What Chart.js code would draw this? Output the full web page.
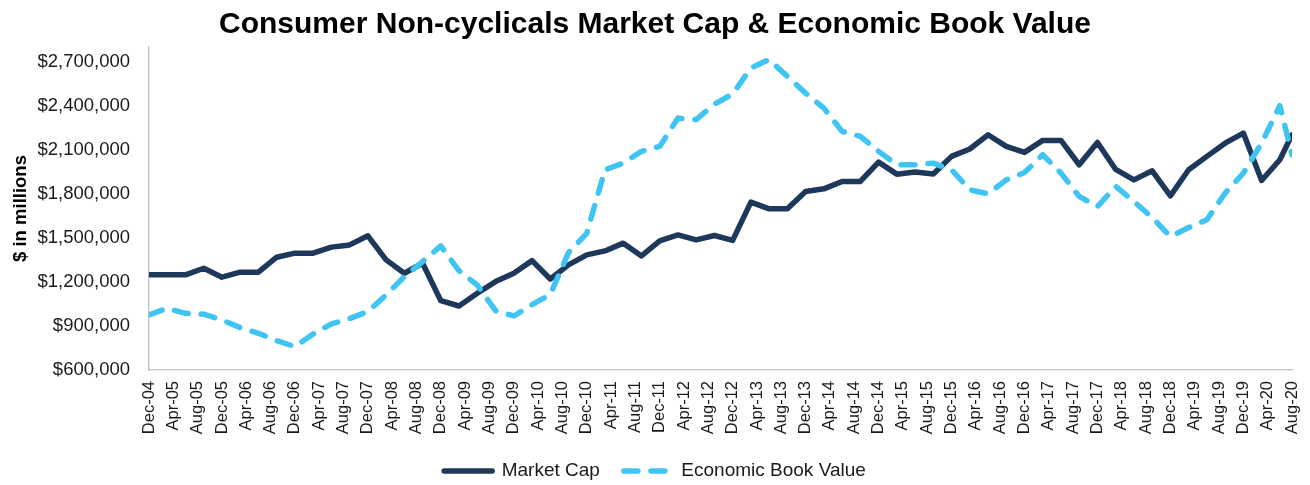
<!DOCTYPE html>
<html>
<head>
<meta charset="utf-8">
<script src="https://cdn.jsdelivr.net/npm/chart.js@4.4.1/dist/chart.umd.min.js"></script>
<style>
  html, body { margin: 0; padding: 0; background: #ffffff; }
  #wrap { width: 1310px; height: 485px; }
</style>
</head>
<body>
<div id="wrap"><canvas id="c" width="1310" height="485"></canvas></div>
<script>
// ---------- DATA ($ in millions) ----------
const periods = ['Dec-04','Mar-05','Jun-05','Sep-05','Dec-05','Mar-06','Jun-06','Sep-06','Dec-06','Mar-07','Jun-07','Sep-07','Dec-07','Mar-08','Jun-08','Sep-08','Dec-08','Mar-09','Jun-09','Sep-09','Dec-09','Mar-10','Jun-10','Sep-10','Dec-10','Mar-11','Jun-11','Sep-11','Dec-11','Mar-12','Jun-12','Sep-12','Dec-12','Mar-13','Jun-13','Sep-13','Dec-13','Mar-14','Jun-14','Sep-14','Dec-14','Mar-15','Jun-15','Sep-15','Dec-15','Mar-16','Jun-16','Sep-16','Dec-16','Mar-17','Jun-17','Sep-17','Dec-17','Mar-18','Jun-18','Sep-18','Dec-18','Mar-19','Jun-19','Sep-19','Dec-19','Mar-20','Jun-20','Aug-20'];

const marketCap = [1248000,1248000,1248000,1293000,1232000,1266000,1266000,1368000,1396000,1396000,1437000,1452000,1514000,1350000,1259000,1327000,1072000,1036000,1123000,1202000,1259000,1345000,1220000,1316000,1384000,1411000,1464000,1377000,1480000,1520000,1486000,1516000,1483000,1743000,1698000,1698000,1816000,1834000,1884000,1884000,2016000,1934000,1948000,1935000,2055000,2105000,2202000,2123000,2082000,2164000,2164000,1998000,2150000,1966000,1895000,1957000,1786000,1964000,2055000,2145000,2214000,1891000,2032000,2202000];

const economicBookValue = [975000,1020000,986000,980000,941000,889000,850000,800000,759000,845000,914000,950000,998000,1111000,1236000,1338000,1445000,1275000,1178000,1005000,968000,1045000,1115000,1400000,1530000,1964000,2009000,2089000,2123000,2316000,2305000,2411000,2480000,2657000,2714000,2600000,2486000,2384000,2225000,2191000,2089000,1998000,1998000,2009000,1964000,1827000,1800000,1895000,1945000,2066000,1941000,1782000,1713000,1850000,1748000,1638000,1509000,1570000,1623000,1805000,1941000,2145000,2400000,2066000];

const xTickLabels = ['Dec-04','Apr-05','Aug-05','Dec-05','Apr-06','Aug-06','Dec-06','Apr-07','Aug-07','Dec-07','Apr-08','Aug-08','Dec-08','Apr-09','Aug-09','Dec-09','Apr-10','Aug-10','Dec-10','Apr-11','Aug-11','Dec-11','Apr-12','Aug-12','Dec-12','Apr-13','Aug-13','Dec-13','Apr-14','Aug-14','Dec-14','Apr-15','Aug-15','Dec-15','Apr-16','Aug-16','Dec-16','Apr-17','Aug-17','Dec-17','Apr-18','Aug-18','Dec-18','Apr-19','Aug-19','Dec-19','Apr-20','Aug-20'];

const yTickValues = [600000,900000,1200000,1500000,1800000,2100000,2400000,2700000];

const seriesNames = ['Market Cap', 'Economic Book Value'];
const chartTitle = 'Consumer Non-cyclicals Market Cap & Economic Book Value';
const yAxisTitle = '$ in millions';

// ---------- helpers ----------
const MONTHS = {Jan:0,Feb:1,Mar:2,Apr:3,May:4,Jun:5,Jul:6,Aug:7,Sep:8,Oct:9,Nov:10,Dec:11};
function absMonth(label) {
  const [m, yy] = label.split('-');
  return (2000 + parseInt(yy, 10)) * 12 + MONTHS[m];
}
// months elapsed since the first period
function labelMonth(label) { return absMonth(label) - absMonth(periods[0]); }
const toPoints = (vals) => vals.map((v, i) => ({ x: labelMonth(periods[i]), y: v }));

const FONT = "'Liberation Sans', Arial, Helvetica, sans-serif";
const NAVY = '#1E385C';
const SKY = '#40C4F3';

new Chart(document.getElementById('c'), {
  type: 'line',
  data: {
    datasets: [
      {
        label: seriesNames[0],
        data: toPoints(marketCap),
        borderColor: NAVY,
        backgroundColor: NAVY,
        borderWidth: 5.5,
        borderCapStyle: 'round',
        borderJoinStyle: 'round',
        pointRadius: 0,
        tension: 0,
        order: 2
      },
      {
        label: seriesNames[1],
        data: toPoints(economicBookValue),
        borderColor: SKY,
        backgroundColor: SKY,
        borderWidth: 5.5,
        borderDash: [14, 13],
        borderCapStyle: 'round',
        borderJoinStyle: 'round',
        pointRadius: 0,
        tension: 0,
        order: 1
      }
    ]
  },
  options: {
    responsive: false,
    devicePixelRatio: 1,
    animation: false,
    layout: { padding: { left: 6, right: 6, top: 0, bottom: 4.5 } },
    plugins: {
      title: {
        display: true,
        text: chartTitle,
        color: '#000',
        font: { family: FONT, size: 30, weight: 'bold' },
        padding: { top: 7, bottom: 4 }
      },
      legend: {
        display: true,
        position: 'bottom',
        maxHeight: 43,
        labels: {
          usePointStyle: true,
          pointStyle: 'line',
          pointStyleWidth: 48,
          padding: 24,
          color: '#1a1a1a',
          font: { family: FONT, size: 19 },
          sort: (a, b) => a.datasetIndex - b.datasetIndex,
          generateLabels: (chart) => {
            const items = Chart.defaults.plugins.legend.labels.generateLabels(chart);
            items.forEach((it) => {
              const ds = chart.data.datasets[it.datasetIndex];
              it.lineDash = ds.borderDash || [];
              it.lineCap = 'round';
              it.lineWidth = ds.borderWidth;
              it.strokeStyle = ds.borderColor;
              it.fillStyle = ds.borderColor;
            });
            return items;
          }
        }
      },
      tooltip: { enabled: false }
    },
    scales: {
      x: {
        type: 'linear',
        min: 0,
        max: labelMonth(periods[periods.length - 1]),
        grid: { display: false, drawTicks: false },
        border: { display: true, color: '#BFBFBF', width: 1.3 },
        afterBuildTicks: (scale) => {
          scale.ticks = xTickLabels.map((l) => ({ value: labelMonth(l) }));
        },
        afterFit: (scale) => {
          scale.height = 67.5;
          scale.paddingRight = 18;
        },
        ticks: {
          autoSkip: false,
          maxRotation: 90,
          minRotation: 90,
          padding: 11,
          color: '#1a1a1a',
          font: { family: FONT, size: 16.5 },
          callback: (value) => {
            const i = xTickLabels.findIndex((l) => labelMonth(l) === value);
            return i >= 0 ? xTickLabels[i] : '';
          }
        }
      },
      y: {
        type: 'linear',
        min: 600000,
        max: 2800000,
        grid: { display: false, drawTicks: false },
        border: { display: true, color: '#BFBFBF', width: 1.3 },
        afterBuildTicks: (scale) => {
          scale.ticks = yTickValues.map((v) => ({ value: v }));
        },
        afterFit: (scale) => {
          scale.width = 143;
        },
        title: {
          display: true,
          text: yAxisTitle,
          color: '#000',
          font: { family: FONT, size: 18.5, weight: 'bold' },
          padding: { top: 4, bottom: 4 }
        },
        ticks: {
          padding: 19,
          color: '#1a1a1a',
          font: { family: FONT, size: 18.5 },
          callback: (v) => '$' + Number(v).toLocaleString('en-US')
        }
      }
    }
  }
});
</script>
</body>
</html>
